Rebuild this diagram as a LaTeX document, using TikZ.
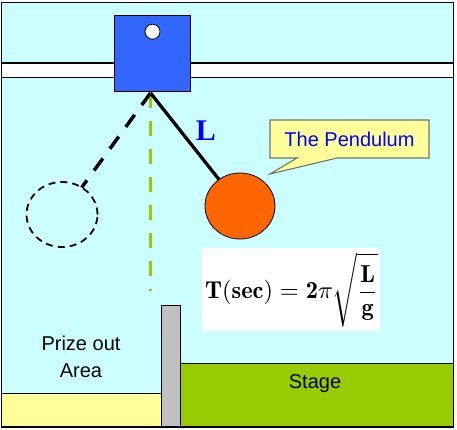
\documentclass[tikz,border=0pt]{standalone}
\usepackage{fontspec}
\newfontfamily\labelfont{Liberation Sans}
\newfontfamily\rodfont{Liberation Serif}
\usetikzlibrary{shapes.geometric}
\definecolor{skyfill}{HTML}{CCFFFF}
\definecolor{carriageblue}{HTML}{3366FF}
\definecolor{bobfill}{HTML}{FF6600}
\definecolor{paleyellow}{HTML}{FFFF99}
\definecolor{stagegreen}{HTML}{99CC00}
\definecolor{wallgray}{HTML}{C0C0C0}
\definecolor{tagblue}{HTML}{0000FF}
\begin{document}
\begin{tikzpicture}
	[x=1pt,y=-1pt,
	every node/.style={inner sep=0pt,outer sep=0pt},
	frame/.style={draw,fill=skyfill,line width=1.3pt},
	rail/.style={draw,fill=white,line width=1.1pt},
	carriage/.style={draw,fill=carriageblue,line width=1pt,rectangle,minimum size=76pt},
	hole/.style={draw,fill=white,line width=0.8pt,circle,minimum size=15pt},
	bob/.style={draw,fill=bobfill,line width=0.8pt,ellipse,minimum width=70pt,minimum height=66pt},
	ghost/.style={draw,ellipse,minimum width=71pt,minimum height=65pt,line width=1.8pt,dash pattern=on 7pt off 5pt},
	rod/.style={line width=3.3pt},
	swing/.style={line width=3.5pt,dash pattern=on 15pt off 12pt},
	plumb/.style={draw=stagegreen,line width=3.5pt,dash pattern=on 15pt off 13pt},
	block/.style={draw,line width=1.1pt},
	bubble/.style={draw=black!55,fill=paleyellow,line width=1.1pt,line join=miter},
	tagtext/.style={font=\labelfont\fontsize{20}{24}\selectfont,text=tagblue},
	areatext/.style={font=\labelfont\fontsize{20}{27}\selectfont,align=center},
	lawbox/.style={fill=white,minimum width=178pt,minimum height=83pt}
	]
	\useasboundingbox (0,0) rectangle (457,430);
	\draw[frame] (1.5,2.5) rectangle (453.5,427);
	\draw[rail] (1.5,63) rectangle (453.5,77.3);
	\node[carriage] (carriage) at (152,54) {};
	\node[hole] (hole) at (152.5,31.7) {};
	\coordinate (pivot) at (150.5,93);
	\coordinate (plumbend) at (150.5,291);
	\node[bob] (bob) at (240,206) {};
	\node[ghost] (ghost) at (62,214.5) {};
	\draw[plumb] (pivot) -- (plumbend);
	\draw[rod] (pivot) -- (bob);
	\draw[swing] (pivot) -- (ghost);
	\node[text=tagblue,font=\rodfont\bfseries\fontsize{30}{32}\selectfont] (length) at (206,131) {L};
	\draw[bubble] (270,120) -- (429,120) -- (429,158) -- (337,158) -- (270,174) -- (297,158) -- (270,158) -- cycle;
	\node[tagtext] (tag) at (349.5,139.5) {The Pendulum};
	\node[lawbox] (law) at (291,289.5) {};
	\node (formula) at (291.5,290) {\scalebox{2.45}{$\displaystyle\mathbf{T}(\mathbf{sec})=\mathbf{2}\pi\sqrt{\frac{\mathbf{L}}{\mathbf{g}}}$}};
	\draw[block,fill=paleyellow] (1.5,393.3) rectangle (161.7,427);
	\draw[block,fill=stagegreen] (180.7,363.3) rectangle (453.5,427);
	\draw[block,fill=wallgray] (161.7,305.7) rectangle (180.7,427);
	\node[areatext] (prize) at (81,357) {Prize out\\Area};
	\node[areatext] (stage) at (315,383.5) {Stage};
\end{tikzpicture}
\end{document}
